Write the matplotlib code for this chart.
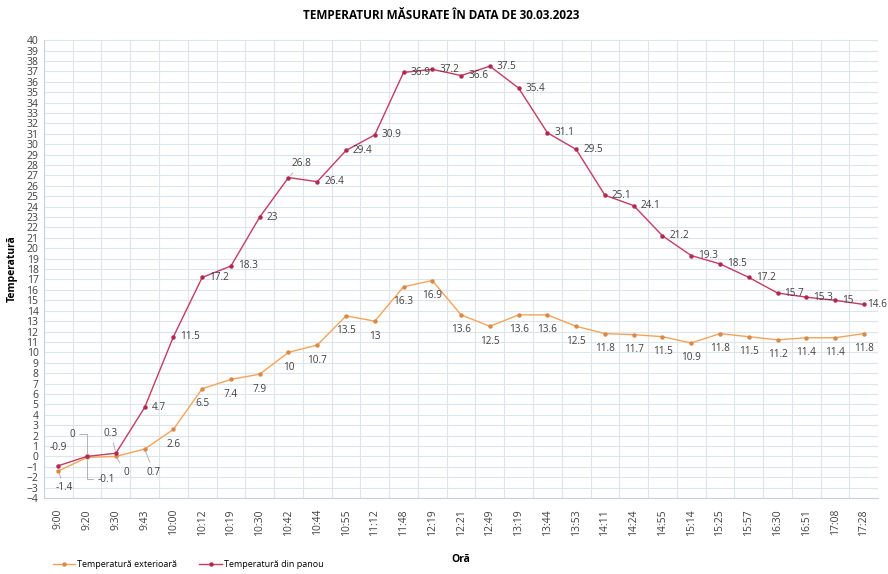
import matplotlib
matplotlib.use('Agg')
from matplotlib import pyplot as plt
from matplotlib.ticker import MultipleLocator, FixedLocator

plt.rcParams['font.family'] = ['Open Sans', 'DejaVu Sans']

ore = ['9:00', '9:20', '9:30', '9:43', '10:00', '10:12', '10:19', '10:30', '10:42', '10:44',
       '10:55', '11:12', '11:48', '12:19', '12:21', '12:49', '13:19', '13:44', '13:53', '14:11',
       '14:24', '14:55', '15:14', '15:25', '15:57', '16:30', '16:51', '17:08', '17:28']
temp_exterioara = [-1.4, -0.1, 0, 0.7, 2.6, 6.5, 7.4, 7.9, 10, 10.7,
                   13.5, 13, 16.3, 16.9, 13.6, 12.5, 13.6, 13.6, 12.5, 11.8,
                   11.7, 11.5, 10.9, 11.8, 11.5, 11.2, 11.4, 11.4, 11.8]
temp_panou = [-0.9, 0, 0.3, 4.7, 11.5, 17.2, 18.3, 23, 26.8, 26.4,
              29.4, 30.9, 36.9, 37.2, 36.6, 37.5, 35.4, 31.1, 29.5, 25.1,
              24.1, 21.2, 19.3, 18.5, 17.2, 15.7, 15.3, 15, 14.6]

c_ext = '#f2a55a'
c_pan = '#c43c62'
c_txt = '#404040'
c_grid = '#dde4ea'

fig = plt.figure(figsize=(8.88, 5.74), dpi=100)
ax = fig.add_axes([0.0495, 0.1324, 0.9395, 0.7976])
x = list(range(len(ore)))

ax.plot(x, temp_exterioara, color=c_ext, lw=1.0, marker='o', ms=2.2,
        mfc='#d98a4a', mec='#d98a4a', label='Temperatură exterioară', zorder=3)
ax.plot(x, temp_panou, color=c_pan, lw=1.0, marker='o', ms=2.2,
        mfc='#b02a50', mec='#b02a50', label='Temperatură din panou', zorder=3)

# labels moved by hand (pixel offsets): (dx, dy, leader style)
special_pan = {0: (0, 18, None), 1: (-15, 22, 'angle'), 2: (-5, 20, 'arc3'), 8: (13, 14, 'arc3')}
special_ext = {0: (6, -17, 'arc3'), 1: (19, -22, 'angle'), 2: (10, -16, 'arc3'), 3: (9, -23, 'arc3')}

def leader(style):
    if style is None:
        return None
    cs = 'angle,angleA=0,angleB=90,rad=0' if style == 'angle' else 'arc3'
    return dict(arrowstyle='-', color='#a6a6a6', lw=0.6, shrinkA=1, shrinkB=2,
                connectionstyle=cs)

def fmt(v):
    return '%g' % v

last = len(temp_panou) - 1
for i, v in enumerate(temp_panou):
    if i in special_pan:
        dx, dy, st = special_pan[i]
        ax.annotate(fmt(v), (i, v), xytext=(dx, dy), textcoords='offset pixels',
                    ha='center', va='center', fontsize=7.2, color=c_txt,
                    arrowprops=leader(st))
    else:
        dx = 3 if i == last else 7
        ax.annotate(fmt(v), (i, v), xytext=(dx, 0), textcoords='offset pixels',
                    ha='left', va='center', fontsize=7.2, color=c_txt)

for i, v in enumerate(temp_exterioara):
    if i in special_ext:
        dx, dy, st = special_ext[i]
        ax.annotate(fmt(v), (i, v), xytext=(dx, dy), textcoords='offset pixels',
                    ha='center', va='center', fontsize=7.2, color=c_txt,
                    arrowprops=leader(st))
    else:
        ax.annotate(fmt(v), (i, v), xytext=(0, -15), textcoords='offset pixels',
                    ha='center', va='center', fontsize=7.2, color=c_txt)

ax.set_xlim(-0.5, len(ore) - 0.5)
ax.set_ylim(-4, 40)
ax.set_xticks(x)
ax.set_xticklabels(ore, rotation=90, fontsize=7.5, color=c_txt)
ax.xaxis.set_minor_locator(FixedLocator([i + 0.5 for i in range(-1, len(ore))]))
ax.yaxis.set_major_locator(MultipleLocator(1))
ax.tick_params(axis='y', labelsize=7.5, labelcolor=c_txt, length=0, pad=4)
ax.tick_params(axis='x', which='both', length=0, pad=8)
ax.grid(axis='y', which='major', color=c_grid, lw=0.8)
ax.grid(axis='x', which='minor', color=c_grid, lw=0.8)
ax.set_axisbelow(True)
for s in ['top', 'right']:
    ax.spines[s].set_visible(False)
ax.spines['left'].set_color('#c8d0d8')
ax.spines['bottom'].set_color('#c8d0d8')

ax.set_xlabel('Oră', fontsize=7.5, fontweight='bold', labelpad=13)
ax.set_ylabel('Temperatură', fontsize=7.5, fontweight='bold', labelpad=6)
fig.suptitle('TEMPERATURI MĂSURATE ÎN DATA DE 30.03.2023', x=0.497, y=0.985,
             fontsize=8.5, fontweight='bold')

fig.legend(loc='lower left', bbox_to_anchor=(0.05, -0.005), ncol=2, frameon=False,
           fontsize=6.5, handlelength=2.5, columnspacing=2.5, handletextpad=0.2)

fig.savefig('out.png', dpi=100)
